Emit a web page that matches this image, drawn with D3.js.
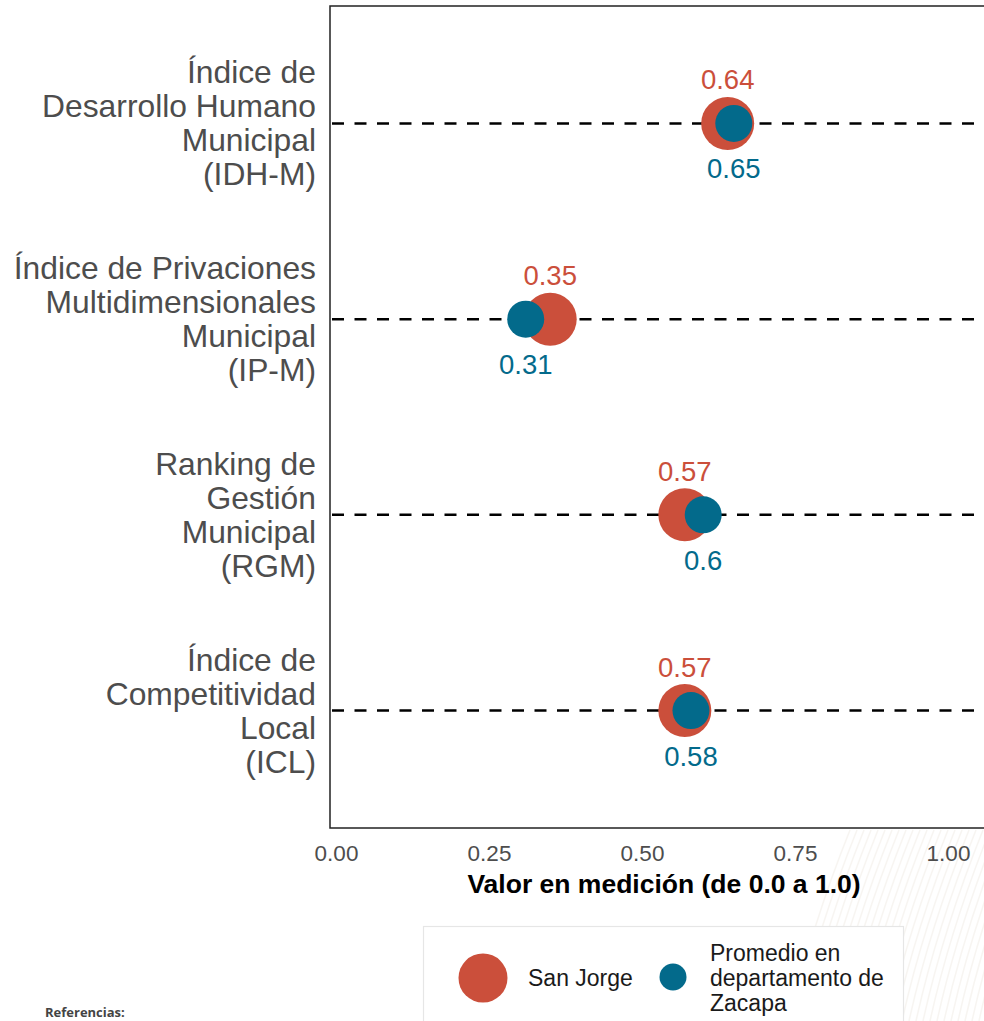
<!DOCTYPE html>
<html>
<head>
<meta charset="utf-8">
<script src="https://cdn.jsdelivr.net/npm/d3@7"></script>
<style>
  html, body { margin: 0; padding: 0; background: #ffffff; }
  svg { display: block; }
</style>
</head>
<body>
<svg id="chart" width="984" height="1021"></svg>
<script>
// Indicator names, one entry per text line of the axis label
const categories = ["IDH-M", "IP-M", "RGM", "ICL"];
const categoryLines = [
  ["Índice de", "Desarrollo Humano", "Municipal", "(IDH-M)"],
  ["Índice de Privaciones", "Multidimensionales", "Municipal", "(IP-M)"],
  ["Ranking de", "Gestión", "Municipal", "(RGM)"],
  ["Índice de", "Competitividad", "Local", "(ICL)"]
];
// Municipal value and departmental average for each indicator
const sanJorge = [0.64, 0.35, 0.57, 0.57];
const zacapa = [0.65, 0.31, 0.60, 0.58];
const xTicks = [0, 0.25, 0.5, 0.75, 1];
const xTickLabels = ["0.00", "0.25", "0.50", "0.75", "1.00"];
const seriesNames = ["San Jorge", "Promedio en departamento de Zacapa"];

const RED = "#cb4f3b";
const BLUE = "#036a8b";
const FONT = "'Liberation Sans', Arial, Helvetica, sans-serif";

const svg = d3.select("#chart");

const panel = { left: 330, right: 998, top: 6, bottom: 828 };

const x = d3.scaleLinear().domain([0, 1]).range([336, 948]);
const y = d3.scalePoint().domain(categories).range([panel.top, panel.bottom]).padding(0.6);

// faint background hatch in the lower right corner
const hatch = svg.append("g").attr("opacity", 0.45);
d3.range(0, 30).forEach(i => {
  const x0 = 790 + i * 7;
  hatch.append("path")
    .attr("d", `M${x0},1021 Q${x0 + 20},930 ${x0 + 60},830`)
    .attr("fill", "none")
    .attr("stroke", "#efe9e2")
    .attr("stroke-width", 1.5);
});

// panel border
svg.append("rect")
  .attr("x", panel.left).attr("y", panel.top)
  .attr("width", panel.right - panel.left).attr("height", panel.bottom - panel.top)
  .attr("fill", "none").attr("stroke", "#222").attr("stroke-width", 1.5);

// dashed reference line per indicator
svg.append("g").selectAll("line")
  .data(categories)
  .join("line")
  .attr("x1", panel.left + 2).attr("x2", panel.right)
  .attr("y1", d => y(d)).attr("y2", d => y(d))
  .attr("stroke", "#000").attr("stroke-width", 2.5)
  .attr("stroke-dasharray", "12,10.5");

const rows = categories.map((c, i) => ({ c, a: sanJorge[i], b: zacapa[i], lines: categoryLines[i] }));

// San Jorge points (underneath)
svg.append("g").selectAll("circle")
  .data(rows).join("circle")
  .attr("cx", d => x(d.a)).attr("cy", d => y(d.c))
  .attr("r", 26.5).attr("fill", RED);

// departmental average points (on top)
svg.append("g").selectAll("circle")
  .data(rows).join("circle")
  .attr("cx", d => x(d.b)).attr("cy", d => y(d.c))
  .attr("r", 18.5).attr("fill", BLUE);

// value labels
svg.append("g").selectAll("text")
  .data(rows).join("text")
  .attr("x", d => x(d.a)).attr("y", d => y(d.c) - 34)
  .attr("text-anchor", "middle")
  .attr("font-family", FONT).attr("font-size", 27.5)
  .attr("fill", RED)
  .text(d => String(d.a));

svg.append("g").selectAll("text")
  .data(rows).join("text")
  .attr("x", d => x(d.b)).attr("y", d => y(d.c) + 55)
  .attr("text-anchor", "middle")
  .attr("font-family", FONT).attr("font-size", 27.5)
  .attr("fill", BLUE)
  .text(d => String(d.b));

// y axis labels (multi-line, right aligned)
const lineH = 34;
const yLab = svg.append("g").selectAll("text")
  .data(rows).join("text")
  .attr("text-anchor", "end")
  .attr("font-family", FONT).attr("font-size", 31.8)
  .attr("fill", "#4d4d4d");
yLab.each(function (d) {
  const t = d3.select(this);
  const n = d.lines.length;
  d.lines.forEach((ln, k) => {
    t.append("tspan")
      .attr("x", 316)
      .attr("y", y(d.c) + (k - (n - 1) / 2) * lineH + 11)
      .text(ln);
  });
});

// x axis
const xAxis = d3.axisBottom(x)
  .tickValues(xTicks)
  .tickFormat((d, i) => xTickLabels[i])
  .tickSize(0)
  .tickPadding(0);
const gx = svg.append("g")
  .attr("transform", `translate(0,${panel.bottom})`)
  .call(xAxis);
gx.select(".domain").remove();
gx.selectAll("text")
  .attr("dy", 0)
  .attr("y", 33)
  .attr("font-family", FONT).attr("font-size", 22.5)
  .attr("fill", "#4d4d4d");

svg.append("text")
  .attr("x", (panel.left + panel.right) / 2).attr("y", 893)
  .attr("text-anchor", "middle")
  .attr("font-family", FONT).attr("font-size", 26.5).attr("font-weight", "bold")
  .attr("fill", "#000")
  .text("Valor en medición (de 0.0 a 1.0)");

// legend
const lg = svg.append("g");
lg.append("rect")
  .attr("x", 423.5).attr("y", 926.5).attr("width", 480).attr("height", 120)
  .attr("fill", "#fff").attr("stroke", "#e6e6e6").attr("stroke-width", 1.2);
lg.append("circle").attr("cx", 483).attr("cy", 978).attr("r", 24.5).attr("fill", RED);
lg.append("text")
  .attr("x", 528).attr("y", 986)
  .attr("font-family", FONT).attr("font-size", 23).attr("fill", "#1a1a1a")
  .text(seriesNames[0]);
lg.append("circle").attr("cx", 673).attr("cy", 977).attr("r", 13.5).attr("fill", BLUE);
const legendLines = ["Promedio en", "departamento de", "Zacapa"];
lg.append("text")
  .attr("font-family", FONT).attr("font-size", 23).attr("fill", "#1a1a1a")
  .selectAll("tspan").data(legendLines).join("tspan")
  .attr("x", 710).attr("y", (d, i) => 961 + i * 25)
  .text(d => d);

// footnote heading
svg.append("text")
  .attr("x", 45).attr("y", 1017)
  .attr("font-family", "'Open Sans', sans-serif").attr("font-size", 13).attr("font-weight", "bold")
  .attr("fill", "#444")
  .text("Referencias:");
</script>
</body>
</html>
